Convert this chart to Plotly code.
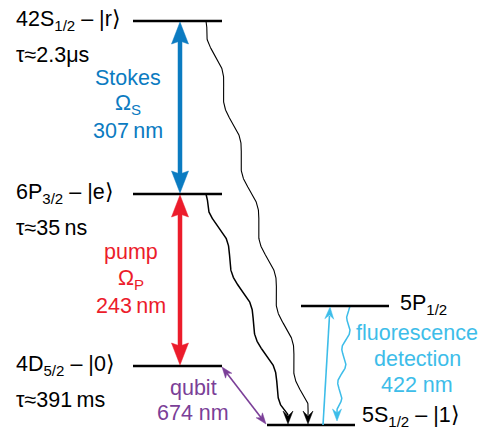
import numpy as np
import plotly.graph_objects as go

W, H = 485, 431

# ---- data ----
level_labels = ["42S<sub>1/2</sub> – |r⟩", "6P<sub>3/2</sub> – |e⟩", "4D<sub>5/2</sub> – |0⟩",
                "5S<sub>1/2</sub> – |1⟩", "5P<sub>1/2</sub>"]
level_y = [21, 194, 366, 425, 306]
level_x0 = [133, 133, 133, 267, 301]
level_x1 = [222, 222, 222, 355, 389]
lifetimes = ["τ≈2.3μs", "τ≈35\u2009ns", "τ≈391\u2009ms"]
stokes_text = ["Stokes", "Ω<sub>S</sub>", "307\u2009nm"]
pump_text = ["pump", "Ω<sub>P</sub>", "243\u2009nm"]
qubit_text = ["qubit", "674 nm"]
fluo_text = ["fluorescence", "detection", "422 nm"]

BLUE = "#0b7bc1"
RED = "#ec1c2b"
PURPLE = "#7b3f98"
CYAN = "#3dbde9"
FONT = "Liberation Sans, Arial, sans-serif"
FS = 21.5

fig = go.Figure()
shapes = []
ann = []


def head(tip, d, length, width, color, notch=3):
    d = np.array(d, float)
    d = d / np.linalg.norm(d)
    n = np.array([-d[1], d[0]])
    t = np.array(tip, float)
    b = t - d * length
    p1 = b + n * width / 2
    p2 = b - n * width / 2
    pn = t - d * (length - notch)
    path = "M {} {} L {} {} L {} {} L {} {} Z".format(t[0], t[1], p1[0], p1[1], pn[0], pn[1], p2[0], p2[1])
    shapes.append(dict(type="path", path=path, xref="x", yref="y", fillcolor=color,
                       line=dict(color=color, width=0.5)))


def double_arrow(p0, p1, color, lw, hl, hw):
    p0 = np.array(p0, float); p1 = np.array(p1, float)
    d = (p1 - p0) / np.linalg.norm(p1 - p0)
    a = p0 + d * (hl - 4); b = p1 - d * (hl - 4)
    shapes.append(dict(type="line", x0=a[0], y0=a[1], x1=b[0], y1=b[1], xref="x", yref="y",
                       line=dict(color=color, width=lw)))
    head(p1, d, hl, hw, color)
    head(p0, -d, hl, hw, color)


def wavy(p0, p1, amp, wl, color, lw):
    p0 = np.array(p0, float); p1 = np.array(p1, float)
    L = np.linalg.norm(p1 - p0)
    d = (p1 - p0) / L
    n = np.array([-d[1], d[0]])
    s = np.linspace(0, L, 500)
    env = np.clip(s / 15, 0, 1) * np.clip((L - s) / 12, 0, 1)
    off = amp * np.sin(2 * np.pi * s / wl) * env
    pts = p0[None, :] + s[:, None] * d[None, :] + off[:, None] * n[None, :]
    fig.add_trace(go.Scatter(x=pts[:, 0], y=pts[:, 1], mode="lines",
                             line=dict(color=color, width=lw),
                             hoverinfo="skip", showlegend=False))


# levels
for y, x0, x1 in zip(level_y, level_x0, level_x1):
    shapes.append(dict(type="line", x0=x0, x1=x1, y0=y, y1=y, xref="x", yref="y",
                       line=dict(color="black", width=2.5)))

# level labels
for i in range(3):
    ann.append(dict(x=14, y=level_y[i] - 1, text=level_labels[i], xanchor="left", yanchor="middle",
                    font=dict(size=FS, color="black")))
    ann.append(dict(x=14, y=level_y[i] + 34, text=lifetimes[i], xanchor="left", yanchor="middle",
                    font=dict(size=FS, color="black")))
ann.append(dict(x=360, y=level_y[3] - 9, text=level_labels[3], xanchor="left", yanchor="middle",
                font=dict(size=FS, color="black")))
ann.append(dict(x=398, y=level_y[4] - 2, text=level_labels[4], xanchor="left", yanchor="middle",
                font=dict(size=FS, color="black")))

# Stokes & pump arrows
xa = 180
double_arrow((xa, level_y[0] + 1), (xa, level_y[1] - 1), BLUE, 4.5, 22, 17)
double_arrow((xa, level_y[1] + 1), (xa, level_y[2] - 1), RED, 4.5, 22, 17)

for t, y in zip(stokes_text, [78, 104, 131]):
    ann.append(dict(x=128, y=y, text=t, xanchor="center", yanchor="middle", font=dict(size=FS, color=BLUE)))
for t, y in zip(pump_text, [252, 279, 306]):
    ann.append(dict(x=131, y=y, text=t, xanchor="center", yanchor="middle", font=dict(size=FS, color=RED)))

# qubit arrow
double_arrow((level_x1[2], level_y[2] + 1), (level_x0[3] - 1, level_y[3] - 1), PURPLE, 1.6, 11, 8)
for t, y in zip(qubit_text, [388, 413]):
    ann.append(dict(x=193, y=y, text=t, xanchor="center", yanchor="middle", font=dict(size=FS, color=PURPLE)))

# decay wavy lines
wavy((206, level_y[0]), (308, level_y[3] - 10), 3.5, 70, "black", 1.1)
head((308, level_y[3] - 1), (0, 1), 13, 10, "black", notch=5)
wavy((206, level_y[1]), (288, level_y[3] - 10), 3.5, 68, "black", 1.5)
head((288, level_y[3] - 1), (0, 1), 13, 10, "black", notch=5)

# fluorescence
p0 = np.array([323, level_y[3]]); p1 = np.array([330, level_y[4] + 1])
d = (p1 - p0) / np.linalg.norm(p1 - p0)
b = p1 - d * 9
shapes.append(dict(type="line", x0=p0[0], y0=p0[1], x1=b[0], y1=b[1], xref="x", yref="y",
                   line=dict(color=CYAN, width=1.6)))
head(p1, d, 12, 9, CYAN, notch=4)
wavy((350, level_y[4]), (337, level_y[3] - 12), 3.0, 34, CYAN, 1.5)
head((337, level_y[3] - 4), (0, 1), 12, 9, CYAN, notch=4)
for t, y in zip(fluo_text, [333, 359, 385]):
    ann.append(dict(x=417, y=y, text=t, xanchor="center", yanchor="middle", font=dict(size=FS, color=CYAN)))

for a in ann:
    a.update(xref="x", yref="y", showarrow=False)
    a["font"]["family"] = FONT

fig.update_layout(
    width=W, height=H, margin=dict(l=0, r=0, t=0, b=0),
    paper_bgcolor="white", plot_bgcolor="white",
    xaxis=dict(range=[0, W], visible=False, fixedrange=True),
    yaxis=dict(range=[H, 0], visible=False, fixedrange=True),
    shapes=shapes, annotations=ann, showlegend=False,
)
fig.write_html("out.html", config={"displayModeBar": False})
